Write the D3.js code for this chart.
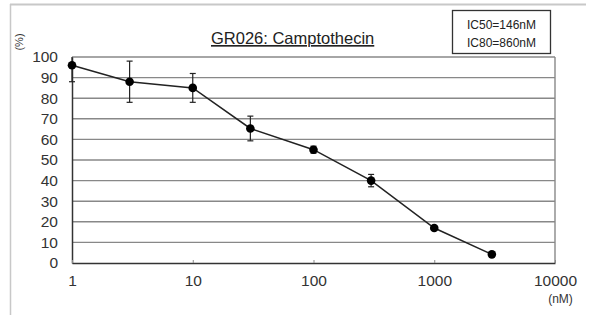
<!doctype html>
<html>
<head>
    <meta charset="UTF-8">
    <title>GR026: Camptothecin</title>
    <script src="https://cdn.jsdelivr.net/npm/d3@7"></script>
    <style>
        body { margin: 0; background: #fff; }
        text { font-family: "Liberation Sans", Arial, sans-serif; }
    </style>
</head>
<body>
    <div id="chart"></div>

    <script>
        // data
        var doses = [1, 3, 10, 30, 100, 300, 1000, 3000];
        var viability = [96, 88, 85, 65.3, 55, 40, 17, 4.2];
        var errors = [8, 10, 7, 6, 1.7, 3, 0.8, 0.8];
        var xTicks = [1, 10, 100, 1000, 10000];
        var yTicks = [0, 10, 20, 30, 40, 50, 60, 70, 80, 90, 100];
        var icLines = ["IC50=146nM", "IC80=860nM"];

        var width = 597,
            height = 315;
        var margin = { left: 72, right: 42, top: 57, bottom: 52 };

        var svg = d3.select("#chart")
            .append("svg")
            .attr("width", width)
            .attr("height", height);

        // outer frame (only top and left show)
        svg.append("line")
            .attr("x1", 10).attr("x2", 586)
            .attr("y1", 4.5).attr("y2", 4.5)
            .style("stroke", "#c8c8c8").style("stroke-width", 2);
        svg.append("line")
            .attr("x1", 10.5).attr("x2", 10.5)
            .attr("y1", 4).attr("y2", height)
            .style("stroke", "#c8c8c8").style("stroke-width", 1.5);

        var x = d3.scaleLog()
            .domain([1, 10000])
            .range([margin.left, width - margin.right]);
        var y = d3.scaleLinear()
            .domain([0, 100])
            .range([height - margin.bottom, margin.top]);

        // grid lines
        svg.selectAll(".grid")
            .data(yTicks.filter(function (d) { return d > 0; }))
            .enter()
            .append("line")
            .attr("class", "grid")
            .attr("x1", x(1)).attr("x2", x(10000))
            .attr("y1", function (d) { return y(d); })
            .attr("y2", function (d) { return y(d); })
            .style("stroke", "#888")
            .style("stroke-width", 1.4);

        // right border
        svg.append("line")
            .attr("x1", x(10000)).attr("x2", x(10000))
            .attr("y1", y(100)).attr("y2", y(0))
            .style("stroke", "#888").style("stroke-width", 1.4);

        // y axis
        var yAxis = svg.append("g")
            .attr("transform", "translate(" + x(1) + ",0)")
            .call(d3.axisLeft(y).tickValues(yTicks).tickSize(0).tickPadding(14));
        yAxis.select(".domain").style("stroke", "#333").style("stroke-width", 1.5);
        yAxis.selectAll("text")
            .style("font-size", "15.5px")
            .style("fill", "#333");

        // x axis
        var xAxis = svg.append("g")
            .attr("transform", "translate(0," + y(0) + ")")
            .call(d3.axisBottom(x).tickValues(xTicks).tickFormat(d3.format("d")).tickSizeInner(-3).tickSizeOuter(0).tickPadding(12));
        xAxis.select(".domain").style("stroke", "#333").style("stroke-width", 1.5);
        xAxis.selectAll(".tick line").style("stroke", "#888");
        xAxis.selectAll("text")
            .style("font-size", "15.5px")
            .style("fill", "#333");

        // clip for error bars that go above 100
        svg.append("clipPath").attr("id", "plotClip")
            .append("rect")
            .attr("x", x(1) - 10).attr("y", y(100))
            .attr("width", x(10000) - x(1) + 20).attr("height", y(0) - y(100));

        var data = doses.map(function (d, i) {
            return { dose: d, v: viability[i], e: errors[i] };
        });

        var bars = svg.append("g").attr("clip-path", "url(#plotClip)");
        bars.selectAll(".ebar")
            .data(data)
            .enter()
            .append("line")
            .attr("class", "ebar")
            .attr("x1", function (d) { return x(d.dose); })
            .attr("x2", function (d) { return x(d.dose); })
            .attr("y1", function (d) { return y(d.v + d.e); })
            .attr("y2", function (d) { return y(d.v - d.e); })
            .style("stroke", "#222").style("stroke-width", 1.2);
        [1, -1].forEach(function (s) {
            bars.selectAll(".cap" + s)
                .data(data)
                .enter()
                .append("line")
                .attr("x1", function (d) { return x(d.dose) - 3; })
                .attr("x2", function (d) { return x(d.dose) + 3; })
                .attr("y1", function (d) { return y(d.v + s * d.e); })
                .attr("y2", function (d) { return y(d.v + s * d.e); })
                .style("stroke", "#222").style("stroke-width", 1.2);
        });

        var line = d3.line()
            .x(function (d) { return x(d.dose); })
            .y(function (d) { return y(d.v); });

        svg.append("path")
            .datum(data)
            .attr("d", line)
            .style("fill", "none")
            .style("stroke", "#222")
            .style("stroke-width", 1.5);

        svg.selectAll(".pt")
            .data(data)
            .enter()
            .append("circle")
            .attr("class", "pt")
            .attr("cx", function (d) { return x(d.dose); })
            .attr("cy", function (d) { return y(d.v); })
            .attr("r", 4.3)
            .style("fill", "#000");

        // title
        svg.append("text")
            .text("GR026: Camptothecin")
            .attr("x", 211)
            .attr("y", 44)
            .style("font-size", "16.5px")
            .style("fill", "#222")
            .style("text-decoration", "underline");

        // IC box
        svg.append("rect")
            .attr("x", 452.5).attr("y", 10.5)
            .attr("width", 98).attr("height", 43)
            .style("fill", "#fff")
            .style("stroke", "#333").style("stroke-width", 1.3);
        svg.selectAll(".ic")
            .data(icLines)
            .enter()
            .append("text")
            .text(function (d) { return d; })
            .attr("x", 501.5)
            .attr("y", function (d, i) { return 29 + i * 18; })
            .style("text-anchor", "middle")
            .style("font-size", "12px")
            .style("fill", "#222");

        // axis unit labels
        svg.append("text")
            .text("(%)")
            .attr("transform", "translate(23,42) rotate(-90)")
            .style("text-anchor", "middle")
            .style("font-size", "11px")
            .style("fill", "#333");
        svg.append("text")
            .text("(nM)")
            .attr("x", 560.5)
            .attr("y", 303)
            .style("text-anchor", "middle")
            .style("font-size", "12px")
            .style("fill", "#333");
    </script>
</body>
</html>
